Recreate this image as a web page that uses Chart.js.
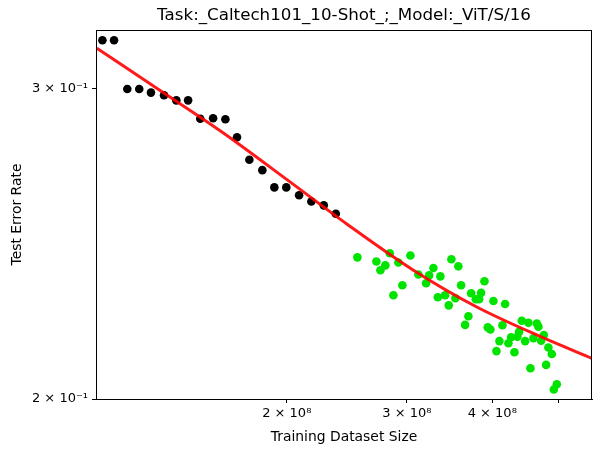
<!DOCTYPE html>
<html>
<head>
<meta charset="utf-8">
<script src="https://cdn.jsdelivr.net/npm/chart.js@4/dist/chart.umd.min.js"></script>
<style>
  body { margin: 0; background: #fff; }
  #wrap { width: 602px; height: 455px; position: relative; }
</style>
</head>
<body>
<div id="wrap"><canvas id="myChart"></canvas></div>
<script>
const titleText = 'Task:_Caltech101_10-Shot_;_Model:_ViT/S/16';

// black points (train)
const trainSizes = [1.074e8, 1.117e8, 1.168e8, 1.216e8, 1.265e8, 1.322e8, 1.378e8, 1.434e8, 1.494e8, 1.560e8,
  1.626e8, 1.691e8, 1.763e8, 1.842e8, 1.918e8, 1.997e8, 2.085e8, 2.173e8, 2.266e8, 2.360e8];
const trainErrors = [0.3194, 0.3194, 0.2997, 0.2997, 0.2983, 0.2973, 0.2953, 0.2953, 0.2883, 0.2885,
  0.2881, 0.2814, 0.2733, 0.2696, 0.2636, 0.2636, 0.2609, 0.2588, 0.2575, 0.2547];

// green points (held out)
const testSizes = [2.538e8, 2.706e8, 2.789e8, 2.743e8, 2.831e8, 2.914e8, 3.035e8, 2.866e8, 2.954e8, 3.118e8,
  3.200e8, 3.233e8, 3.280e8, 3.358e8, 3.485e8, 3.568e8, 3.329e8, 3.412e8, 3.454e8, 3.532e8,
  3.601e8, 3.725e8, 3.852e8, 3.896e8, 3.784e8, 3.827e8, 4.016e8, 4.177e8, 3.691e8, 3.650e8,
  3.940e8, 3.975e8, 4.140e8, 4.098e8, 4.057e8, 4.224e8, 4.263e8, 4.311e8, 4.354e8, 4.419e8,
  4.519e8, 4.649e8, 4.674e8, 4.760e8, 4.469e8, 4.596e8, 4.717e8, 4.834e8, 4.890e8, 4.550e8,
  4.797e8, 4.973e8, 4.923e8, 4.379e8];
const testErrors = [0.2406, 0.2393, 0.2381, 0.2366, 0.2419, 0.2390, 0.2412, 0.2290, 0.2320, 0.2353,
  0.2326, 0.2350, 0.2373, 0.2347, 0.2400, 0.2378, 0.2284, 0.2290, 0.2260, 0.2281,
  0.2320, 0.2296, 0.2297, 0.2332, 0.2278, 0.2278, 0.2273, 0.2264, 0.2228, 0.2203,
  0.2196, 0.2190, 0.2202, 0.2157, 0.2129, 0.2151, 0.2168, 0.2126, 0.2169, 0.2215,
  0.2209, 0.2207, 0.2198, 0.2174, 0.2157, 0.2165, 0.2158, 0.2139, 0.2121, 0.2082,
  0.2091, 0.2039, 0.2025, 0.2183];

// red fit curve
const fitSizes = [1.054e8, 1.290e8, 1.615e8, 2.022e8, 2.449e8, 3.066e8, 3.797e8, 4.701e8, 5.596e8];
const fitErrors = [0.3161, 0.3000, 0.2830, 0.2655, 0.2513, 0.2366, 0.2255, 0.2170, 0.2109];

const xTicks = [2e8, 3e8, 4e8, 5e8];
const xTickLabels = ['2 × 10⁸', '3 × 10⁸', '4 × 10⁸', ''];
const yTicks = [0.2, 0.3];
const yTickLabels = ['2 × 10⁻¹', '3 × 10⁻¹'];

const pts = (xs, ys) => xs.map((x, i) => ({ x: x, y: ys[i] }));

const font = 'DejaVu Sans';

// title over the plot area + the top/right spines
const frame = {
  id: 'frame',
  afterDraw(chart) {
    const { ctx, chartArea: a } = chart;
    ctx.save();
    ctx.strokeStyle = '#000';
    ctx.lineWidth = 1;
    ctx.strokeRect(Math.round(a.left) + 0.5, Math.round(a.top) + 0.5, Math.round(a.right - a.left) - 1, Math.round(a.bottom - a.top));
    ctx.fillStyle = '#000';
    ctx.font = '16.7px "' + font + '"';
    ctx.textAlign = 'center';
    ctx.textBaseline = 'middle';
    ctx.fillText(titleText, (a.left + a.right) / 2, 16);
    ctx.restore();
  }
};

const ctx = document.getElementById('myChart');

new Chart(ctx, {
  type: 'scatter',
  data: {
    datasets: [
      {
        label: 'fit',
        data: pts(fitSizes, fitErrors),
        showLine: true,
        borderColor: 'rgba(255,0,0,0.9)',
        borderWidth: 3,
        pointRadius: 0,
        cubicInterpolationMode: 'monotone',
        order: 0
      },
      {
        label: 'test',
        data: pts(testSizes, testErrors),
        backgroundColor: '#00e400',
        borderWidth: 0,
        pointRadius: 4.3,
        order: 1
      },
      {
        label: 'train',
        data: pts(trainSizes, trainErrors),
        backgroundColor: '#000',
        borderWidth: 0,
        pointRadius: 4.3,
        order: 2
      }
    ]
  },
  options: {
    responsive: true,
    maintainAspectRatio: false,
    animation: false,
    devicePixelRatio: 1,
    layout: { padding: { top: 30, right: 10, left: 0, bottom: 0 } },
    plugins: {
      legend: { display: false },
      tooltip: { enabled: false }
    },
    scales: {
      x: {
        type: 'logarithmic',
        min: 1.051e8,
        max: 5.60e8,
        afterBuildTicks: (s) => { s.ticks = xTicks.map(v => ({ value: v })); },
        afterFit: (s) => { s.height = 56; },
        ticks: {
          autoSkip: false,
          maxRotation: 0,
          padding: 3,
          color: '#000',
          font: { family: font, size: 13 },
          callback: (v, i) => xTickLabels[i]
        },
        grid: { drawOnChartArea: false, drawTicks: true, tickLength: 4, color: '#000' },
        border: { display: true, color: '#000' },
        title: {
          display: true,
          text: 'Training Dataset Size',
          color: '#000',
          font: { family: font, size: 13.9 },
          padding: { top: 0, bottom: 9.6 }
        }
      },
      y: {
        type: 'logarithmic',
        min: 0.2,
        max: 0.3237,
        afterBuildTicks: (s) => { s.ticks = yTicks.map(v => ({ value: v })); },
        afterFit: (s) => { s.width = 96; },
        ticks: {
          autoSkip: false,
          padding: 4,
          color: '#000',
          font: { family: font, size: 13 },
          callback: (v, i) => yTickLabels[i]
        },
        grid: { drawOnChartArea: false, drawTicks: true, tickLength: 4, color: '#000' },
        border: { display: true, color: '#000' },
        title: {
          display: true,
          text: 'Test Error Rate',
          color: '#000',
          font: { family: font, size: 13.9 },
          padding: { top: 8.6, bottom: 0 }
        }
      }
    }
  },
  plugins: [frame]
});
</script>
</body>
</html>
